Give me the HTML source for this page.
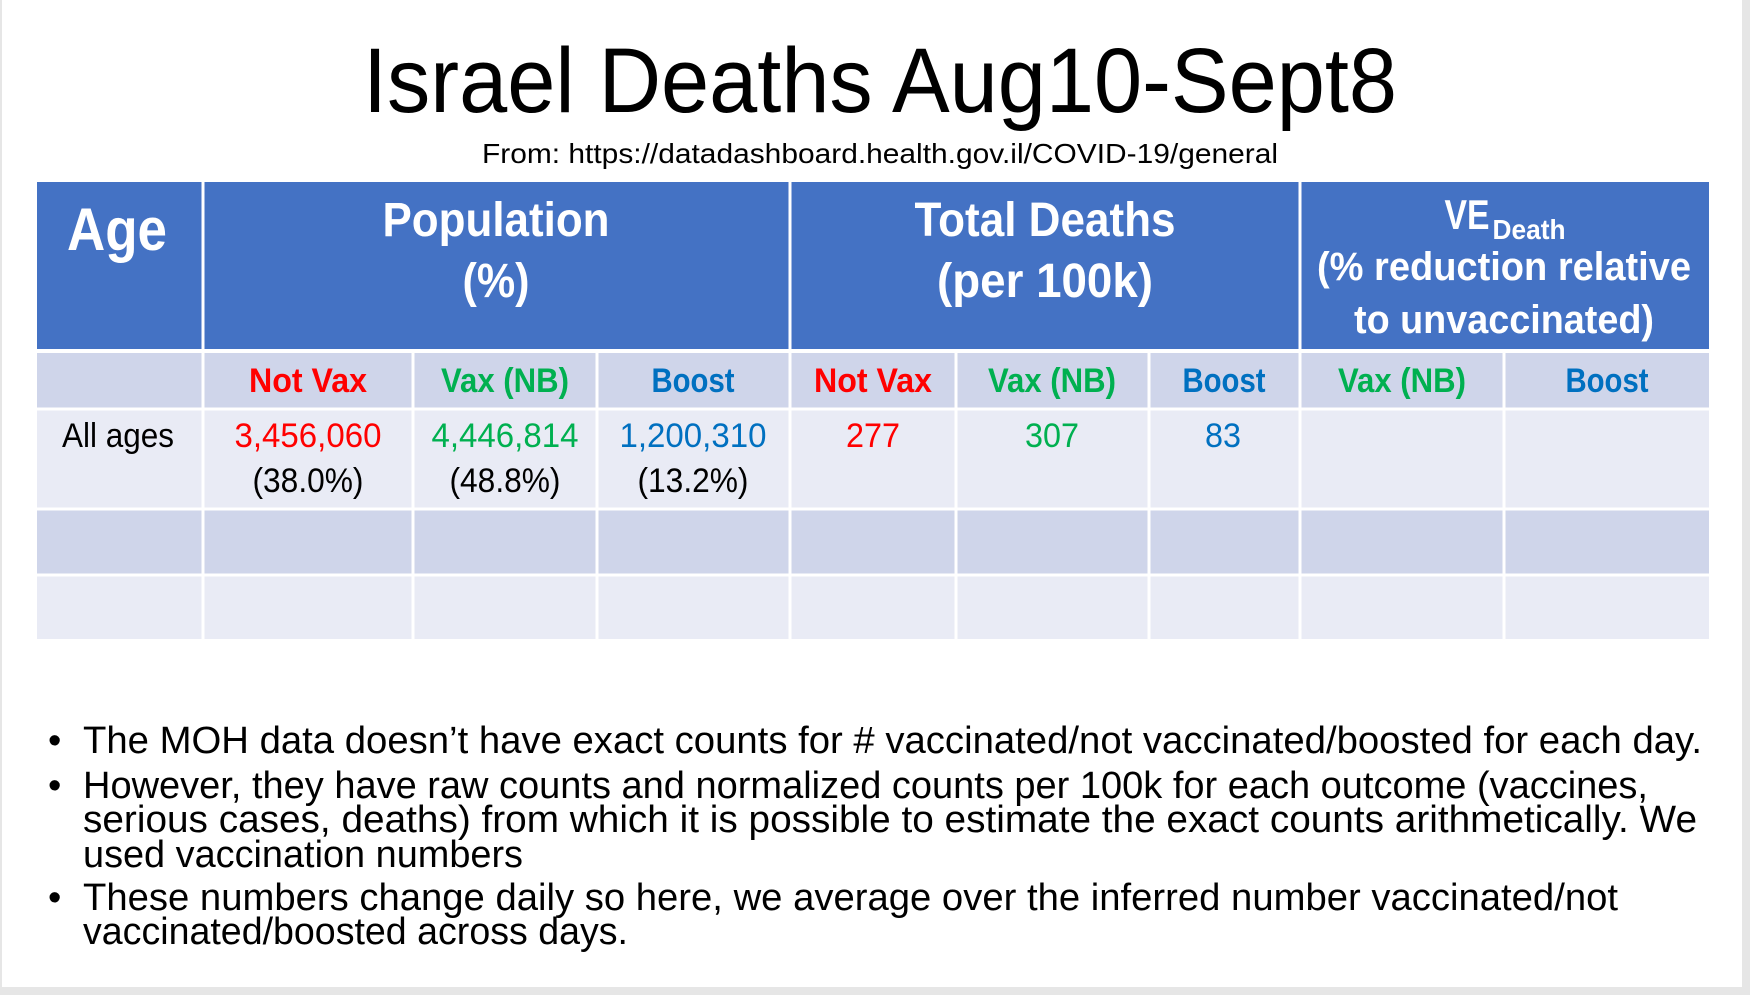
<!DOCTYPE html>
<html><head><meta charset="utf-8"><style>
html,body{margin:0;padding:0;background:#e6e6e6;}
svg{display:block;font-family:"Liberation Sans",sans-serif;}
</style></head><body>
<svg width="1750" height="995" viewBox="0 0 1750 995">
<rect x="0" y="0" width="1750" height="995" fill="#e6e6e6"/>
<rect x="2" y="0" width="1740" height="987" fill="#ffffff"/>
<text x="880" y="112" font-size="92" text-anchor="middle" textLength="1034" lengthAdjust="spacingAndGlyphs" fill="#000">Israel Deaths Aug10-Sept8</text>
<text x="880" y="163" font-size="28" text-anchor="middle" textLength="796" lengthAdjust="spacingAndGlyphs" fill="#000">From: https://datadashboard.health.gov.il/COVID-19/general</text>

<g>
<rect x="37" y="182" width="1672" height="167" fill="#4472C4"/>
<rect x="37" y="353" width="1672" height="55" fill="#CFD5EA"/>
<rect x="37" y="410" width="1672" height="98" fill="#E9EBF5"/>
<rect x="37" y="510" width="1672" height="64" fill="#CFD5EA"/>
<rect x="37" y="576" width="1672" height="63" fill="#E9EBF5"/>
<g stroke="#ffffff" stroke-width="3">
<line x1="37" y1="351" x2="1709" y2="351"/>
<line x1="37" y1="409" x2="1709" y2="409"/>
<line x1="37" y1="509" x2="1709" y2="509"/>
<line x1="37" y1="575" x2="1709" y2="575"/>
<line x1="203" y1="182" x2="203" y2="639"/>
<line x1="790" y1="182" x2="790" y2="639"/>
<line x1="1300" y1="182" x2="1300" y2="639"/>
<line x1="413" y1="351" x2="413" y2="639"/>
<line x1="597" y1="351" x2="597" y2="639"/>
<line x1="956" y1="351" x2="956" y2="639"/>
<line x1="1149" y1="351" x2="1149" y2="639"/>
<line x1="1504" y1="351" x2="1504" y2="639"/>
</g>
<g fill="#fff" font-weight="bold" text-anchor="middle">
<text x="117" y="250" font-size="60" textLength="100" lengthAdjust="spacingAndGlyphs">Age</text>
<text x="496" y="236" font-size="48" textLength="227" lengthAdjust="spacingAndGlyphs">Population</text>
<text x="496" y="297" font-size="48" textLength="67" lengthAdjust="spacingAndGlyphs">(%)</text>
<text x="1045" y="236" font-size="48" textLength="261" lengthAdjust="spacingAndGlyphs">Total Deaths</text>
<text x="1045" y="297" font-size="48" textLength="216" lengthAdjust="spacingAndGlyphs">(per 100k)</text>
<text x="1467" y="229" font-size="42" textLength="45" lengthAdjust="spacingAndGlyphs">VE</text>
<text x="1529" y="239" font-size="28" textLength="73" lengthAdjust="spacingAndGlyphs">Death</text>
<text x="1504" y="280" font-size="40" textLength="374" lengthAdjust="spacingAndGlyphs">(% reduction relative</text>
<text x="1504" y="333" font-size="40" textLength="300" lengthAdjust="spacingAndGlyphs">to unvaccinated)</text>
</g>
<g font-weight="bold" text-anchor="middle" font-size="34">
<text x="308" y="392" fill="#FF0000" textLength="118" lengthAdjust="spacingAndGlyphs">Not Vax</text>
<text x="505" y="392" fill="#00B050" textLength="128" lengthAdjust="spacingAndGlyphs">Vax (NB)</text>
<text x="693" y="392" fill="#0070C0" textLength="83" lengthAdjust="spacingAndGlyphs">Boost</text>
<text x="873" y="392" fill="#FF0000" textLength="118" lengthAdjust="spacingAndGlyphs">Not Vax</text>
<text x="1052" y="392" fill="#00B050" textLength="128" lengthAdjust="spacingAndGlyphs">Vax (NB)</text>
<text x="1224" y="392" fill="#0070C0" textLength="83" lengthAdjust="spacingAndGlyphs">Boost</text>
<text x="1402" y="392" fill="#00B050" textLength="128" lengthAdjust="spacingAndGlyphs">Vax (NB)</text>
<text x="1607" y="392" fill="#0070C0" textLength="83" lengthAdjust="spacingAndGlyphs">Boost</text>
</g>
<g text-anchor="middle" font-size="34">
<text x="118" y="447" fill="#000" textLength="112" lengthAdjust="spacingAndGlyphs">All ages</text>
<text x="308" y="447" fill="#FF0000" textLength="147" lengthAdjust="spacingAndGlyphs">3,456,060</text>
<text x="505" y="447" fill="#00B050" textLength="147" lengthAdjust="spacingAndGlyphs">4,446,814</text>
<text x="693" y="447" fill="#0070C0" textLength="147" lengthAdjust="spacingAndGlyphs">1,200,310</text>
<text x="308" y="492" fill="#000" textLength="111" lengthAdjust="spacingAndGlyphs">(38.0%)</text>
<text x="505" y="492" fill="#000" textLength="111" lengthAdjust="spacingAndGlyphs">(48.8%)</text>
<text x="693" y="492" fill="#000" textLength="111" lengthAdjust="spacingAndGlyphs">(13.2%)</text>
<text x="873" y="447" fill="#FF0000" textLength="54" lengthAdjust="spacingAndGlyphs">277</text>
<text x="1052" y="447" fill="#00B050" textLength="54" lengthAdjust="spacingAndGlyphs">307</text>
<text x="1223" y="447" fill="#0070C0" textLength="36" lengthAdjust="spacingAndGlyphs">83</text>
</g>
</g>

<g font-size="38" fill="#000">
<text x="48" y="753">•</text>
<text x="48" y="798">•</text>
<text x="48" y="910">•</text>
<text x="83" y="753" textLength="1619" lengthAdjust="spacingAndGlyphs">The MOH data doesn’t have exact counts for # vaccinated/not vaccinated/boosted for each day.</text>
<text x="83" y="798" textLength="1565" lengthAdjust="spacingAndGlyphs">However, they have raw counts and normalized counts per 100k for each outcome (vaccines,</text>
<text x="83" y="832" textLength="1614" lengthAdjust="spacingAndGlyphs">serious cases, deaths) from which it is possible to estimate the exact counts arithmetically.   We</text>
<text x="83" y="867" textLength="440" lengthAdjust="spacingAndGlyphs">used vaccination numbers</text>
<text x="83" y="910" textLength="1535" lengthAdjust="spacingAndGlyphs">These numbers change daily so here, we average over the inferred number vaccinated/not</text>
<text x="83" y="944" textLength="545" lengthAdjust="spacingAndGlyphs">vaccinated/boosted across days.</text>
</g>
</svg>
</body></html>
